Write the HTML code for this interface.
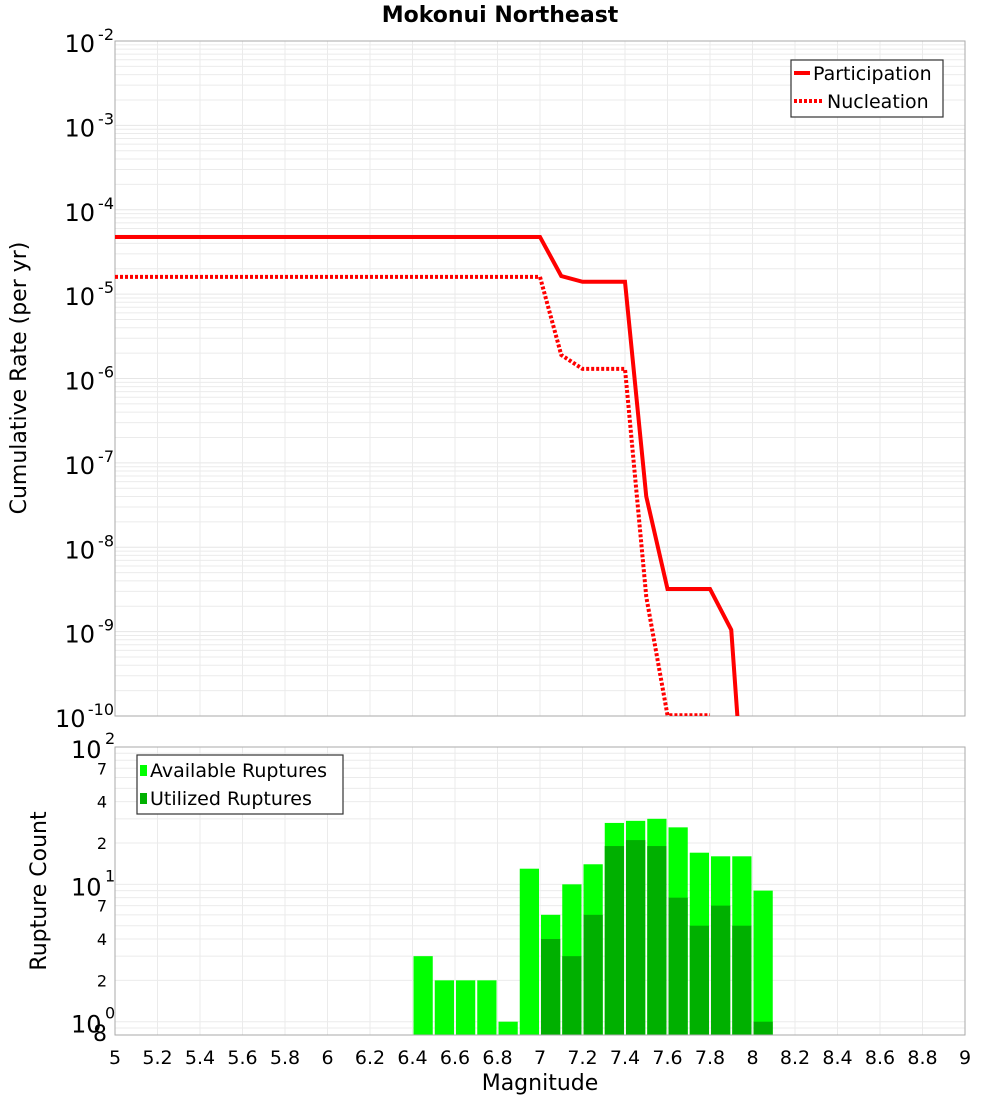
<!DOCTYPE html>
<html><head><meta charset="utf-8"><style>
html,body{margin:0;padding:0;background:#fff;}
svg{display:block;font-family:"DejaVu Sans","Liberation Sans",sans-serif;}
</style></head><body>
<svg id="chart" width="1000" height="1100" viewBox="0 0 1000 1100" xmlns="http://www.w3.org/2000/svg">
<text x="500" y="22" text-anchor="middle" font-size="22" font-weight="bold">Mokonui Northeast</text>
<g id="gtop"></g>
<g id="gbot"></g>
<text transform="translate(26,378) rotate(-90)" text-anchor="middle" font-size="22">Cumulative Rate (per yr)</text>
<text transform="translate(46,891) rotate(-90)" text-anchor="middle" font-size="22">Rupture Count</text>
<text x="540" y="1090" text-anchor="middle" font-size="22">Magnitude</text>
<g>
<rect x="791" y="60" width="152" height="57" fill="#fff" stroke="#333" stroke-width="1.2"/>
<line x1="794" y1="73" x2="810" y2="73" stroke="#f00" stroke-width="4"/>
<text x="813" y="80" font-size="19">Participation</text>
<line x1="794" y1="101" x2="822" y2="101" stroke="#f00" stroke-width="4" stroke-dasharray="3,2"/>
<text x="827" y="108" font-size="19">Nucleation</text>
</g>
<g>
<rect x="137" y="755" width="206" height="59" fill="#fff" stroke="#333" stroke-width="1.2"/>
<rect x="140" y="765" width="7" height="11" fill="#00ff00"/>
<text x="150" y="777" font-size="19">Available Ruptures</text>
<rect x="140" y="793" width="7" height="11" fill="#00b000"/>
<text x="150" y="805" font-size="19">Utilized Ruptures</text>
</g>
</svg>
<script>
const mags = [5,5.1,5.2,5.3,5.4,5.5,5.6,5.7,5.8,5.9,6,6.1,6.2,6.3,6.4,6.5,6.6,6.7,6.8,6.9,7,7.1,7.2,7.3,7.4,7.5,7.6,7.7,7.8,7.9,8.0];
const participation = [4.76e-5,4.76e-5,4.76e-5,4.76e-5,4.76e-5,4.76e-5,4.76e-5,4.76e-5,4.76e-5,4.76e-5,4.76e-5,4.76e-5,4.76e-5,4.76e-5,4.76e-5,4.76e-5,4.76e-5,4.76e-5,4.76e-5,4.76e-5,4.76e-5,1.64e-5,1.4e-5,1.4e-5,1.4e-5,4.0e-8,3.2e-9,3.2e-9,3.2e-9,1.05e-9,3e-13];
const nucleation = [1.6e-5,1.6e-5,1.6e-5,1.6e-5,1.6e-5,1.6e-5,1.6e-5,1.6e-5,1.6e-5,1.6e-5,1.6e-5,1.6e-5,1.6e-5,1.6e-5,1.6e-5,1.6e-5,1.6e-5,1.6e-5,1.6e-5,1.6e-5,1.6e-5,1.9e-6,1.3e-6,1.3e-6,1.3e-6,2.6e-9,1.02e-10,1.02e-10,1.02e-10];
const binMags = [6.45,6.55,6.65,6.75,6.85,6.95,7.05,7.15,7.25,7.35,7.45,7.55,7.65,7.75,7.85,7.95,8.05];
const available = [3,2,2,2,1,13,6,10,14,28,29,30,26,17,16,16,9];
const utilized = [0,0,0,0,0,0,4,3,6,19,21,19,8,5,7,5,1];
const xTicks = ["5","5.2","5.4","5.6","5.8","6","6.2","6.4","6.6","6.8","7","7.2","7.4","7.6","7.8","8","8.2","8.4","8.6","8.8","9"];
const rateExps = [-2,-3,-4,-5,-6,-7,-8,-9,-10];

const NS="http://www.w3.org/2000/svg";
const L=115,R=965,T1=41,B1=716,T2=747,B2=1035;
const X=m=>L+(m-5)/4*(R-L);
const Y1=v=>T1+(-2-Math.log10(v))/8*(B1-T1);
const cMin=Math.log10(0.8),cMax=2;
const Y2=v=>T2+(cMax-Math.log10(v))/(cMax-cMin)*(B2-T2);
function mk(p,tag,a){const e=document.createElementNS(NS,tag);for(const k in a)e.setAttribute(k,a[k]);p.appendChild(e);return e;}
const gTop=document.getElementById('gtop'),gBot=document.getElementById('gbot');
const defs=mk(document.getElementById('chart'),'defs',{});
const cp=mk(defs,'clipPath',{id:'c1'});mk(cp,'rect',{x:L,y:T1,width:R-L,height:B1-T1});
for(let e=-10;e<-2;e++){for(let k=2;k<=9;k++){const y=Y1(k*Math.pow(10,e));
const g=mk(gTop,'line',{x1:L,x2:R,y1:y,y2:y,stroke:'#ebebeb','stroke-width':1});

}}
rateExps.forEach(e=>{const y=Y1(Math.pow(10,e));
const g=mk(gTop,'line',{x1:L,x2:R,y1:y,y2:y,stroke:'#e6e6e6','stroke-width':1});


const s=mk(gTop,'text',{x:L-1,y:y-1,'font-size':16,'text-anchor':'end'});


s.textContent=String(e);
const t=mk(gTop,'text',{x:L-1-String(e).length*9.5,y:y+11,'text-anchor':'end','font-size':24});


t.textContent='10';});
xTicks.forEach(tk=>{const x=X(parseFloat(tk));
const g=mk(gTop,'line',{x1:x,x2:x,y1:T1,y2:B1,stroke:'#ebebeb'});


const g2=mk(gBot,'line',{x1:x,x2:x,y1:T2,y2:B2,stroke:'#ebebeb'});


const t=mk(gBot,'text',{x:x,y:1064,'text-anchor':'middle','font-size':19});


t.textContent=tk;});
const f1=mk(gTop,'rect',{x:L,y:T1,width:R-L,height:B1-T1,fill:'none',stroke:'#aaa'});


function pts(arr){return arr.map((v,i)=>X(mags[i])+','+Y1(v)).join(' ');}
const p1=mk(gTop,'polyline',{points:pts(participation),fill:'none',stroke:'#f00','stroke-width':4,'clip-path':'url(#c1)'});


const p2=mk(gTop,'polyline',{points:pts(nucleation),fill:'none',stroke:'#f00','stroke-width':4,'stroke-dasharray':'3,2','clip-path':'url(#c1)'});


for(let e=-1;e<2;e++){for(let k=1;k<=9;k++){const v=k*Math.pow(10,e);if(v<0.8)continue;const y=Y2(v);
const g=mk(gBot,'line',{x1:L,x2:R,y1:y,y2:y,stroke:'#ebebeb'});

}}
[[100,'2'],[10,'1'],[1,'0']].forEach(([v,e])=>{const y=Y2(v);
const t=mk(gBot,'text',{x:L-44,y:y+11,'font-size':24});


t.textContent='10';
const s=mk(gBot,'text',{x:L-10,y:y-3,'font-size':16});


s.textContent=e;});
[[7,70],[4,40],[2,20],[7,7],[4,4],[2,2],[8,0.8]].forEach(([lab,v])=>{const y=Y2(v);
const t=mk(gBot,'text',{x:L-8,y:y+6,'text-anchor':'end','font-size':lab==8?22:16});


t.textContent=String(lab);});
const bw=(X(5.1)-L)-2;
binMags.forEach((m,i)=>{const x=X(m)-bw/2;
if(available[i]>0){const y=Y2(available[i]);
const r=mk(gBot,'rect',{x:x,y:y,width:bw,height:B2-y,fill:'#00ff00'});

}
if(utilized[i]>0){const y=Y2(utilized[i]);
const r=mk(gBot,'rect',{x:x,y:y,width:bw,height:B2-y,fill:'#00b000'});

}});
const f2=mk(gBot,'rect',{x:L,y:T2,width:R-L,height:B2-T2,fill:'none',stroke:'#aaa'});


</script>
</body></html>
